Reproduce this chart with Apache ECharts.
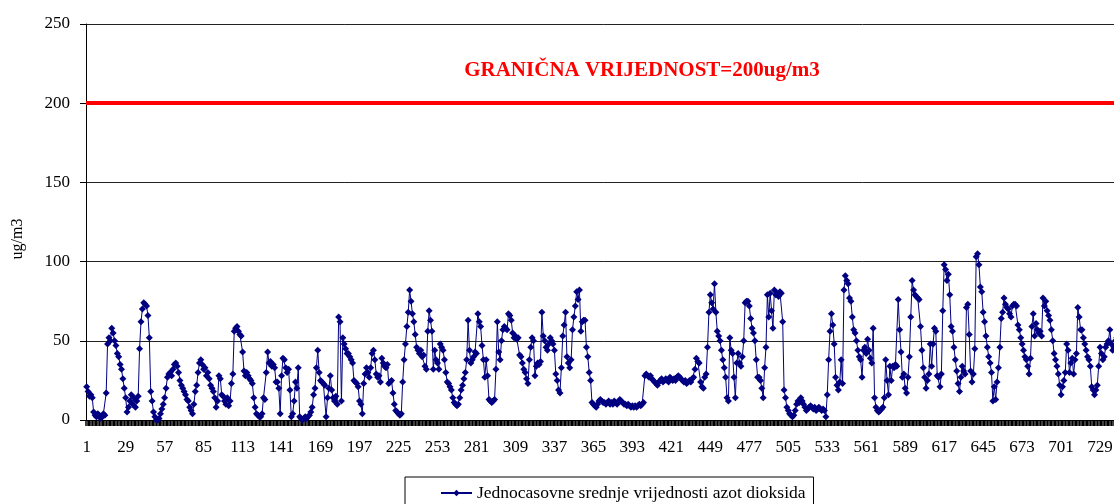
<!DOCTYPE html>
<html>
<head>
<meta charset="utf-8">
<script src="https://cdn.jsdelivr.net/npm/echarts@6/dist/echarts.min.js"></script>
<style>
html,body{margin:0;padding:0;background:#fff;overflow:hidden;}
#c{width:1130px;height:504px;}
</style>
</head>
<body>
<div id="c"></div>
<script>
const seriesName = 'Jednocasovne srednje vrijednosti azot dioksida';
const limitValue = 200;
const limitLabel = 'GRANIČNA VRIJEDNOST=200ug/m3';
const yAxisName = 'ug/m3';
const yTicks = [0, 50, 100, 150, 200, 250];
const values = [
21,18,15,16,14,5,3,2,4,3,
1,2,4,3,17,48,52,50,58,55,
50,47,42,40,35,32,26,20,14,5,
8,12,16,10,14,8,12,15,45,62,
70,74,73,72,66,52,18,12,5,2,
0,0,1,4,7,10,14,20,27,29,
30,28,32,35,36,34,30,25,22,20,
18,16,13,12,8,6,4,10,18,22,
30,36,38,35,32,33,28,30,26,22,
20,18,14,8,12,28,26,16,15,12,
10,14,9,12,23,29,56,58,59,56,
54,53,43,31,28,30,28,26,25,23,
14,8,4,3,2,2,4,14,13,30,
43,36,37,34,35,33,24,24,20,4,
28,39,38,33,30,32,19,2,4,12,
24,20,33,2,1,0,1,2,1,2,
3,5,8,16,20,33,44,30,25,24,
23,22,2,14,20,28,19,14,12,15,
10,65,62,12,52,48,45,42,42,40,
38,36,25,24,23,21,12,10,4,23,
29,33,30,27,33,42,44,38,29,27,
28,24,39,36,34,33,35,23,24,25,
17,10,6,5,4,3,4,24,38,48,
59,68,82,75,67,62,54,46,44,42,
44,40,41,34,32,56,69,63,56,32,
44,38,36,32,48,46,44,38,30,24,
23,21,19,14,11,10,9,10,14,19,
22,26,30,38,63,44,36,38,40,43,
42,67,62,59,47,38,27,38,28,13,
12,11,12,13,32,62,43,38,50,57,
59,58,57,67,66,63,55,52,53,51,
52,41,40,36,32,30,26,23,38,46,
52,50,28,34,36,35,37,68,53,50,
46,44,48,52,50,48,44,29,25,19,
17,33,53,60,68,40,36,33,38,57,
65,72,81,76,82,56,62,63,63,46,
40,30,25,11,10,9,8,10,12,13,
12,11,11,10,11,12,10,11,10,12,
11,10,11,13,12,11,10,10,9,10,
9,8,9,8,9,8,9,10,9,10,
11,28,29,28,27,28,26,25,24,23,
22,24,25,26,24,25,26,25,24,27,
26,25,26,25,27,28,27,26,25,24,
25,23,24,25,24,26,27,32,39,37,
36,24,21,20,27,29,46,68,79,74,
70,86,68,56,53,50,44,38,33,27,
14,12,52,44,42,27,14,36,42,36,
34,40,50,74,75,75,72,64,58,55,
50,38,27,27,25,20,14,33,46,79,
65,80,69,58,82,79,80,78,81,80,
62,19,14,8,6,4,3,2,3,6,
10,12,11,14,12,10,8,6,7,8,
9,8,7,8,6,7,8,7,6,7,
6,2,16,38,56,67,60,48,27,22,
19,24,38,23,82,91,88,86,77,75,
65,57,55,50,44,40,38,27,44,46,
42,51,44,39,36,58,14,8,6,5,
6,7,8,14,38,25,16,34,25,34,
33,35,34,76,57,43,27,29,20,17,
27,40,65,88,82,79,78,77,76,59,
44,33,27,20,25,29,48,34,48,58,
56,28,27,21,29,69,98,95,88,92,
79,59,56,46,38,31,23,18,27,34,
31,29,71,73,54,31,24,29,45,103,
105,98,84,81,68,62,53,46,40,36,
30,12,21,13,24,33,46,64,68,77,
73,71,70,67,65,72,73,73,72,60,
57,52,48,44,40,38,34,29,39,59,
67,53,61,57,55,56,53,77,72,75,
69,66,63,57,50,42,38,34,29,22,
16,21,25,30,48,44,30,36,39,29,
38,42,71,65,57,57,52,48,44,40,
38,34,21,19,16,19,22,34,46,42,
38,40,46,48,50,57,48,44,46,50,
52,48,45,42
];
const categories = values.map((v, i) => String(i + 1));

const serif = '"Liberation Serif", "Times New Roman", serif';
const chart = echarts.init(document.getElementById('c'), null, {renderer: 'canvas'});
const bandPx = 1.392;
chart.setOption({
  animation: false,
  backgroundColor: '#fff',
  grid: {left: 86, top: 24, height: 396, width: values.length * bandPx, containLabel: false},
  graphic: [{
    type: 'text', x: 642, y: 71,
    style: {text: limitLabel, fill: '#ff0000', font: 'bold 21px ' + serif, textAlign: 'center', textVerticalAlign: 'middle'}
  }, {
    type: 'text', x: 18, y: 239, rotation: Math.PI / 2,
    style: {text: yAxisName, fill: '#000', font: '16px ' + serif, textAlign: 'center', textVerticalAlign: 'middle'}
  }],
  legend: {
    left: 405, top: 477,
    padding: [7, 8, 8, 35],
    borderColor: '#000', borderWidth: 1,
    itemWidth: 31, itemHeight: 8,
    textStyle: {fontFamily: serif, fontSize: 17.5, color: '#000'},
    data: [seriesName]
  },
  xAxis: {
    type: 'category', data: categories, boundaryGap: true,
    axisLine: {show: true, onZero: false, lineStyle: {color: '#000', width: 1}},
    axisTick: {show: true, inside: false, interval: 0, length: 6, lineStyle: {color: '#000', width: 1.5}},
    axisLabel: {interval: 27, margin: 19, fontFamily: serif, fontSize: 17, color: '#000'},
    splitLine: {show: false}
  },
  yAxis: {
    type: 'value', min: yTicks[0], max: yTicks[yTicks.length - 1], interval: 50,
    axisLine: {show: true, lineStyle: {color: '#000'}},
    axisTick: {show: true, inside: false, length: 6, lineStyle: {color: '#000'}},
    axisLabel: {margin: 16, fontFamily: serif, fontSize: 17, color: '#000'},
    splitLine: {lineStyle: {color: '#222', width: 1}}
  },
  series: [{
    name: seriesName, type: 'line', data: values,
    symbol: 'diamond', symbolSize: 7, showAllSymbol: true, z: 3,
    itemStyle: {color: '#000080'},
    lineStyle: {color: '#000080', width: 1},
    markLine: {
      silent: true, symbol: 'none', label: {show: false},
      lineStyle: {color: '#ff0000', width: 4, type: 'solid'},
      data: [{yAxis: limitValue}]
    }
  }]
});
</script>
</body>
</html>
